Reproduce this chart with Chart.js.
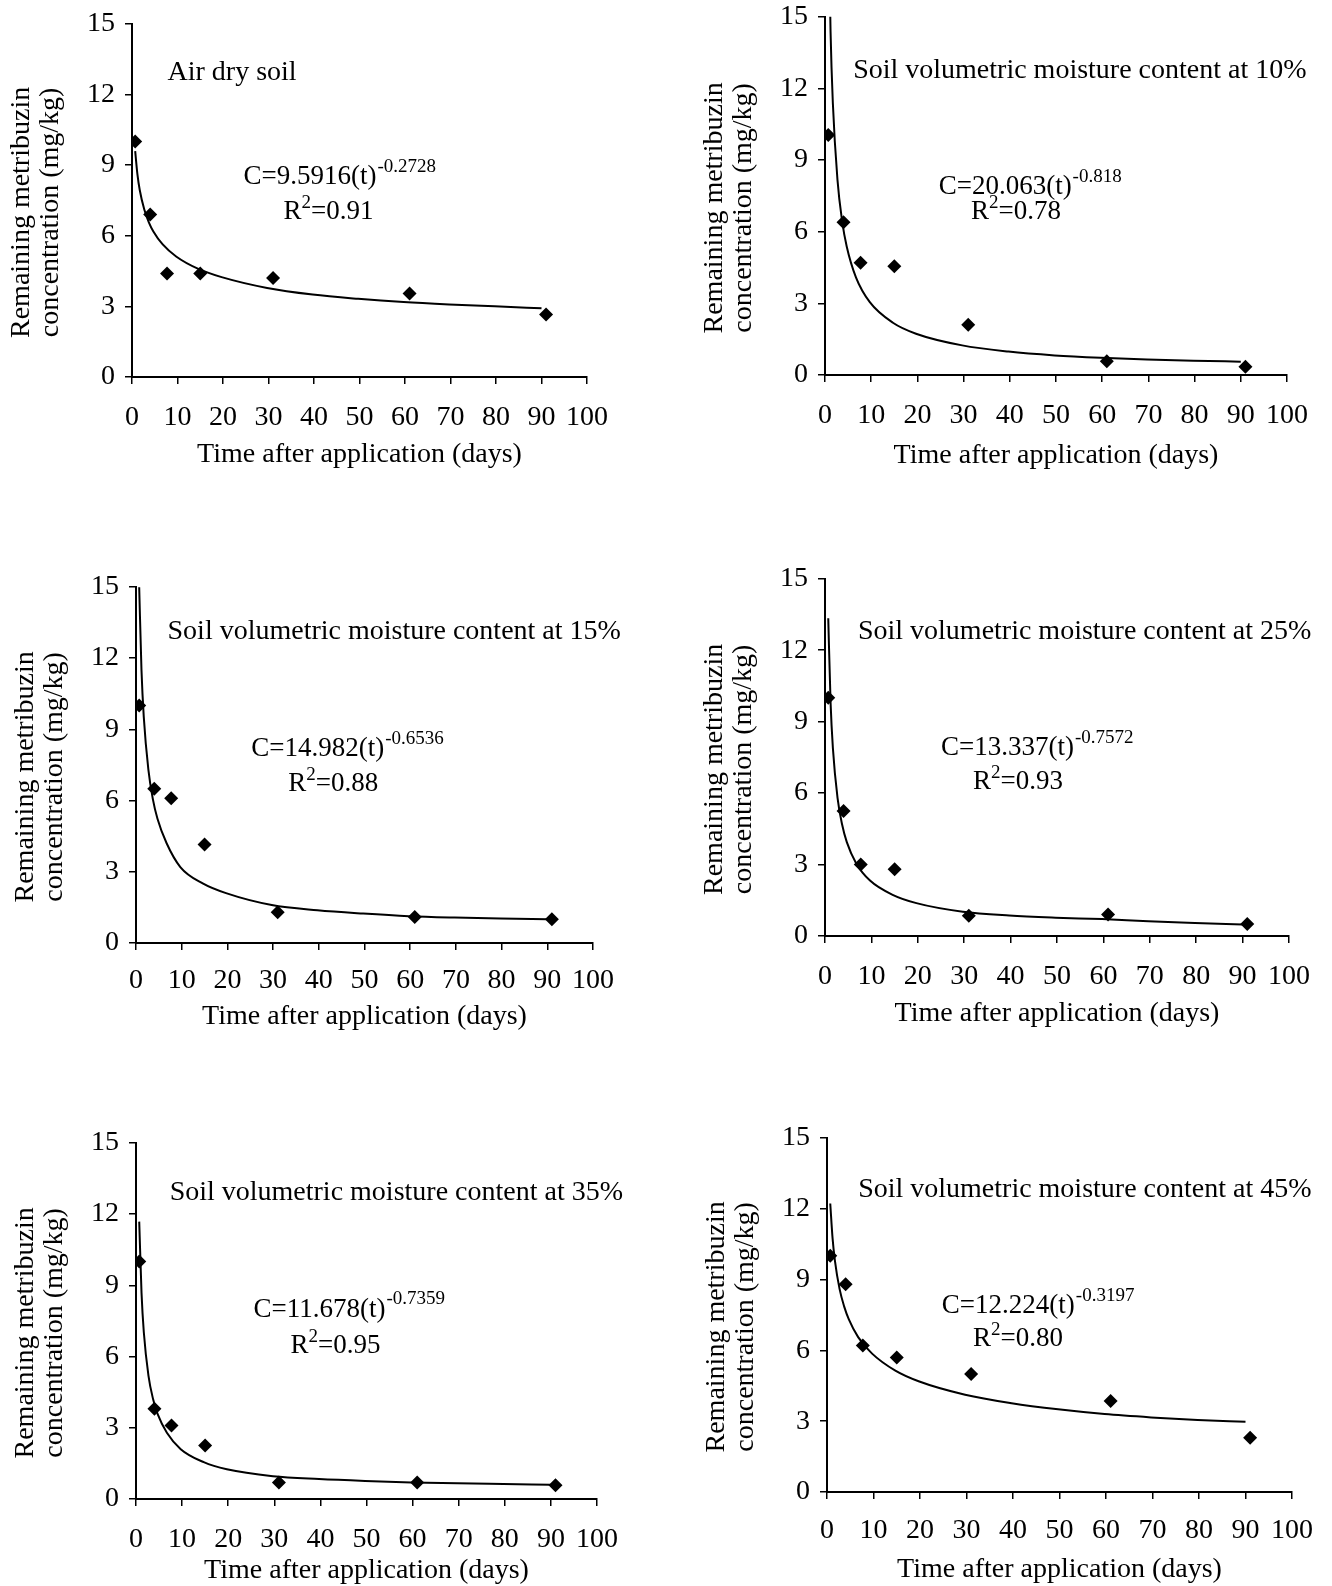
<!DOCTYPE html>
<html>
<head>
<meta charset="utf-8">
<title>Metribuzin dissipation in soil</title>
<script src="https://cdn.jsdelivr.net/npm/chart.js@4.4.1/dist/chart.umd.min.js"></script>
<style>
  body { margin: 0; background: #fff; width: 1332px; height: 1586px; position: relative; overflow: hidden; }
  canvas { position: absolute; }
</style>
</head>
<body>
<script>
/* --- data --- */
const days = [0.7, 4, 7.7, 15, 31, 61, 91];
const fitDays = [0.7, 1.2, 1.7, 2.7, 3.7, 4.7, 6.7, 9.7, 14.7, 19.7, 29.7, 39.7, 49.7, 59.7, 69.7, 79.7, 90];
const xTicks = [0, 10, 20, 30, 40, 50, 60, 70, 80, 90, 100];
const yTicks = [0, 3, 6, 9, 12, 15];

const obsAir = [10, 6.9, 4.4, 4.4, 4.2, 3.55, 2.65];
const obs10 = [10.05, 6.4, 4.7, 4.55, 2.1, 0.58, 0.35];
const obs15 = [10, 6.5, 6.1, 4.15, 1.3, 1.1, 1.0];
const obs25 = [10, 5.25, 3.0, 2.8, 0.85, 0.9, 0.5];
const obs35 = [10, 3.8, 3.1, 2.25, 0.7, 0.7, 0.58];
const obs45 = [10, 8.8, 6.2, 5.7, 5.0, 3.85, 2.3];

const fitAir = [9.59, 8.59, 7.94, 7.11, 6.57, 6.18, 5.64, 5.12, 4.58, 4.24, 3.78, 3.5, 3.32, 3.18, 3.08, 3.0, 2.92];
const fit10 = [20.06, 14.4, 11.38, 8.17, 6.45, 5.38, 4.09, 3.05, 2.19, 1.73, 1.24, 0.98, 0.82, 0.72, 0.65, 0.6, 0.56];
const fit15 = [14.98, 11.49, 9.52, 7.31, 6.05, 5.23, 4.2, 3.2, 2.5, 2.1, 1.6, 1.38, 1.24, 1.13, 1.07, 1.03, 1.0];
const fit25 = [13.34, 9.81, 7.89, 5.8, 4.67, 3.94, 3.06, 2.33, 1.72, 1.38, 1.02, 0.86, 0.77, 0.71, 0.62, 0.55, 0.48];
const fit35 = [11.68, 8.67, 7.01, 5.2, 4.21, 3.57, 2.79, 2.1, 1.55, 1.25, 0.96, 0.84, 0.76, 0.7, 0.66, 0.63, 0.6];
const fit45 = [12.22, 10.74, 9.8, 8.6, 7.85, 7.31, 6.56, 5.86, 5.14, 4.69, 4.12, 3.76, 3.5, 3.3, 3.16, 3.05, 2.97];

const panelTitles = ['Air dry soil',
  'Soil volumetric moisture content at 10%',
  'Soil volumetric moisture content at 15%',
  'Soil volumetric moisture content at 25%',
  'Soil volumetric moisture content at 35%',
  'Soil volumetric moisture content at 45%'];
const coefs = ['9.5916', '20.063', '14.982', '13.337', '11.678', '12.224'];
const exps = ['-0.2728', '-0.818', '-0.6536', '-0.7572', '-0.7359', '-0.3197'];
const r2s = ['0.91', '0.78', '0.88', '0.93', '0.95', '0.80'];
const yTitle = ['Remaining metribuzin', 'concentration (mg/kg)'];
const xTitle = 'Time after application (days)';

const observed = [obsAir, obs10, obs15, obs25, obs35, obs45];
const fitted = [fitAir, fit10, fit15, fit25, fit35, fit45];

/* --- layout: plot areas on the page [left, top, right, bottom] --- */
const areas = [
  [132, 19, 587, 377], [825, 12, 1287, 375],
  [136, 582, 593, 943], [825, 574, 1289, 936],
  [136, 1138, 597, 1499], [827, 1133, 1292, 1492]
];
const tickOff = [41, 41, 37.5, 41, 40.5, 39];
const titleOff = [78, 81, 74, 77.5, 72, 78];
// text anchors in data units
const notePos = [[7.8, 12.94], [6.1, 12.74], [6.9, 13.11], [7.1, 12.79], [7.3, 12.92], [6.7, 12.79]];
const eqPos = [[24.5, 8.5], [24.6, 7.89], [25.2, 8.16], [25.0, 7.89], [25.5, 7.98], [24.7, 7.86]];
const r2Pos = [[33.3, 7.0], [31.6, 6.82], [33.3, 6.71], [31.9, 6.48], [33.5, 6.44], [31.4, 6.48]];

const ML = 132, MT = 22, MR = 45, MB = 100;
const FONT = '"Liberation Serif", "Times New Roman", serif';

Chart.defaults.font.family = FONT;
Chart.defaults.color = '#000';

/* --- text inside each panel --- */
const notesPlugin = {
  id: 'notes',
  afterDraw(chart, args, o) {
    const { ctx, chartArea: a, scales: { x, y } } = chart;
    ctx.save();
    ctx.fillStyle = '#000';
    ctx.textBaseline = 'middle';
    ctx.textAlign = 'left';

    ctx.font = '28px ' + FONT;
    ctx.fillText(o.label, x.getPixelForValue(o.labelAt[0]), y.getPixelForValue(o.labelAt[1]));

    let px = x.getPixelForValue(o.eqAt[0]), py = y.getPixelForValue(o.eqAt[1]);
    const eq = 'C=' + o.coef + '(t)';
    ctx.font = '27px ' + FONT;
    ctx.fillText(eq, px, py);
    px += ctx.measureText(eq).width;
    ctx.font = '19px ' + FONT;
    ctx.fillText(o.exp, px + 1, py - 10);

    px = x.getPixelForValue(o.r2At[0]); py = y.getPixelForValue(o.r2At[1]);
    ctx.font = '27px ' + FONT;
    ctx.fillText('R', px, py);
    px += ctx.measureText('R').width;
    ctx.font = '19px ' + FONT;
    ctx.fillText('2', px, py - 9);
    px += ctx.measureText('2').width;
    ctx.font = '27px ' + FONT;
    ctx.fillText('=' + o.r2, px, py);

    // y axis title, two lines
    ctx.translate(a.left - 110, (a.top + a.bottom) / 2 + 12);
    ctx.rotate(-Math.PI / 2);
    ctx.textAlign = 'center';
    ctx.font = '28px ' + FONT;
    ctx.fillText(yTitle[0], 0, 0);
    ctx.fillText(yTitle[1], 0, 29);
    ctx.restore();
  }
};

const axisGrid = { display: true, drawOnChartArea: false, drawTicks: true, tickLength: 7, color: '#000', lineWidth: 1.5 };
const axisBorder = { display: true, color: '#000', width: 2 };

areas.forEach((ar, i) => {
  const [L, T, R, B] = ar;
  const cv = document.createElement('canvas');
  cv.width = (R - L) + ML + MR;
  cv.height = (B - T) + MT + MB;
  cv.style.left = (L - ML) + 'px';
  cv.style.top = (T - MT) + 'px';
  document.body.appendChild(cv);

  new Chart(cv, {
    type: 'scatter',
    data: {
      datasets: [
        {
          data: days.map((d, j) => ({ x: d, y: observed[i][j] })),
          pointStyle: 'rectRot',
          pointRadius: 7,
          backgroundColor: '#000',
          borderColor: '#000',
          borderWidth: 0
        },
        {
          data: fitDays.map((d, j) => ({ x: d, y: fitted[i][j] })),
          showLine: true,
          pointRadius: 0,
          borderColor: '#000',
          borderWidth: 2,
          cubicInterpolationMode: 'monotone',
          fill: false
        }
      ]
    },
    options: {
      responsive: false,
      animation: false,
      events: [],
      layout: { padding: { left: 0, top: MT, right: MR, bottom: 0 } },
      plugins: {
        legend: { display: false },
        tooltip: { enabled: false },
        notes: {
          label: panelTitles[i], labelAt: notePos[i],
          coef: coefs[i], exp: exps[i], eqAt: eqPos[i],
          r2: r2s[i], r2At: r2Pos[i]
        }
      },
      scales: {
        x: {
          type: 'linear', min: 0, max: 100,
          afterBuildTicks: s => { s.ticks = xTicks.map(v => ({ value: v })); },
          afterFit: s => { s.height = MB; },
          ticks: { font: { size: 28 }, padding: tickOff[i] - 7 - 16.8, maxRotation: 0, autoSkip: false },
          grid: axisGrid,
          border: axisBorder,
          title: { display: true, text: xTitle, font: { size: 28 }, padding: { top: 0, bottom: MB - titleOff[i] - 16.8 } }
        },
        y: {
          type: 'linear', min: 0, max: 15,
          afterBuildTicks: s => { s.ticks = yTicks.map(v => ({ value: v })); },
          afterFit: s => { s.width = ML; },
          ticks: { font: { size: 28 }, padding: 10 },
          grid: axisGrid,
          border: axisBorder
        }
      }
    },
    plugins: [notesPlugin]
  });
});
</script>
</body>
</html>
